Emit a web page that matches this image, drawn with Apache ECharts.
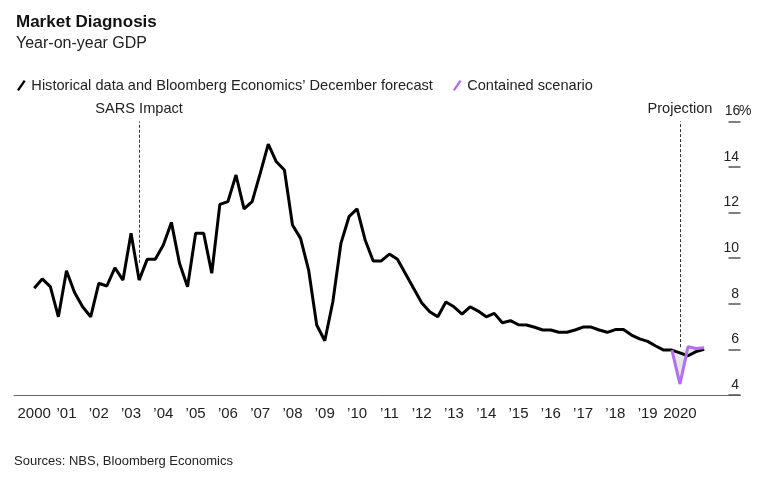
<!DOCTYPE html>
<html>
<head>
<meta charset="utf-8">
<script src="https://cdn.jsdelivr.net/npm/echarts@6/dist/echarts.min.js"></script>
<style>
html, body { margin: 0; padding: 0; background: #fff; }
#viz { width: 767px; height: 480px; }
</style>
</head>
<body>
<div id="viz"></div>
<script>
// quarterly categories, padded two quarters before 2000 and one year after 2020
var quarters = [];
for (var y = 1999; y <= 2021; y++) {
  for (var q = 1; q <= 4; q++) {
    if (y == 1999 && q < 3) continue;
    quarters.push(y + 'Q' + q);
  }
}
var yearLabels = ['2000', '\u201901', '\u201902', '\u201903', '\u201904', '\u201905', '\u201906', '\u201907',
  '\u201908', '\u201909', '\u201910', '\u201911', '\u201912', '\u201913', '\u201914', '\u201915',
  '\u201916', '\u201917', '\u201918', '\u201919', '2020'];

// YoY GDP, 2000Q1 .. 2020Q4 (history + December forecast)
var gdp = [8.68, 9.09, 8.75, 7.43, 9.45, 8.50, 7.87, 7.43, 8.90, 8.78,
  9.58, 9.04, 11.09, 9.04, 9.95, 9.95, 10.58, 11.57, 9.78, 8.75,
  11.09, 11.09, 9.34, 12.36, 12.48, 13.65, 12.16, 12.48, 13.72, 15.0,
  14.23, 13.87, 11.46, 10.87, 9.48, 7.07, 6.38, 8.09, 10.65, 11.82,
  12.16, 10.8, 9.88, 9.88, 10.18, 9.95, 9.32, 8.68, 8.05, 7.65,
  7.43, 8.08, 7.87, 7.55, 7.87, 7.68, 7.43, 7.58, 7.17, 7.26,
  7.08, 7.07, 6.97, 6.85, 6.85, 6.75, 6.75, 6.85, 6.98, 6.98,
  6.85, 6.75, 6.87, 6.87, 6.63, 6.46, 6.35, 6.15, 5.97, 5.97,
  5.85, 5.72, 5.9, 6.0];
var gdpStart = '2000Q1';

// contained scenario, 2019Q4 .. 2020Q4
var contained = [5.97, 4.48, 6.12, 6.04, 6.07];
var containedStart = '2019Q4';

// annotation lines: [category, lower end, upper end]
var sarsLine = ['2003Q2', 9.8, 16];
var projLine = ['2020Q1', 6.1, 16];

var nameHist = 'Historical data and Bloomberg Economics\u2019 December forecast';
var nameCont = 'Contained scenario';

function pad(arr, start) {
  var out = [];
  var off = quarters.indexOf(start);
  for (var i = 0; i < quarters.length; i++) {
    var k = i - off;
    out.push(k >= 0 && k < arr.length ? arr[k] : null);
  }
  return out;
}

var histData = pad(gdp, gdpStart);
var contData = pad(contained, containedStart);
// grey band between the two lines
var bandBase = [], bandDiff = [];
for (var i = 0; i < quarters.length; i++) {
  if (contData[i] != null && histData[i] != null) {
    bandBase.push(Math.min(contData[i], histData[i]));
    bandDiff.push(Math.abs(contData[i] - histData[i]));
  } else {
    bandBase.push(null);
    bandDiff.push(null);
  }
}

function isYearTick(i) {
  var c = quarters[i];
  var yr = +c.slice(0, 4);
  return c.slice(4) == 'Q1' && yr >= 2000 && yr <= 2020;
}

var slash = 'path://M0,10L7,0L9,1.4L2,11.4Z';
var font = '"Liberation Sans", Arial, sans-serif';

var myChart = echarts.init(document.getElementById('viz'));
var option = {
  animation: false,
  textStyle: { fontFamily: font },
  title: [{
    text: 'Market Diagnosis',
    subtext: 'Year-on-year GDP',
    left: 11,
    top: 9,
    itemGap: 5,
    textStyle: { fontSize: 17, fontWeight: 'bold', color: '#111', fontFamily: font },
    subtextStyle: { fontSize: 16, color: '#222', fontFamily: font }
  }, {
    text: 'Sources: NBS, Bloomberg Economics',
    left: 9,
    top: 450,
    textStyle: { fontSize: 13, fontWeight: 'normal', color: '#222', fontFamily: font }
  }],
  legend: {
    left: 12,
    top: 73,
    itemWidth: 10,
    itemHeight: 11,
    itemGap: 20,
    textStyle: { fontSize: 14.6, color: '#222' },
    data: [{ name: nameHist, icon: slash }, { name: nameCont, icon: slash }]
  },
  grid: { left: 14, right: 26.5, top: 121.4, bottom: 85 },
  xAxis: {
    type: 'category',
    data: quarters,
    boundaryGap: true,
    axisLine: { lineStyle: { color: '#666', width: 1 } },
    axisTick: { alignWithLabel: true, length: 5, interval: isYearTick, lineStyle: { color: '#444' } },
    axisLabel: {
      interval: isYearTick,
      margin: 11,
      fontSize: 15,
      color: '#222',
      formatter: function (v) { return yearLabels[+v.slice(0, 4) - 2000]; }
    },
    splitLine: { show: false }
  },
  yAxis: {
    type: 'value',
    position: 'right',
    min: 4,
    max: 16,
    interval: 2,
    splitLine: { show: false },
    axisLine: { show: false },
    axisTick: { show: true, inside: true, length: 12, lineStyle: { color: '#555', width: 1.5 } },
    axisLabel: {
      inside: true,
      margin: 14.5,
      align: 'left',
      verticalAlign: 'bottom',
      padding: [0, 0, 3, 0],
      fontSize: 14,
      color: '#222',
      formatter: function (v) { return '{d|' + v + '}' + (v === 16 ? '%' : ''); },
      rich: { d: { width: 13, align: 'right', fontSize: 14, color: '#222' } }
    }
  },
  series: [{
    name: 'band base',
    type: 'line',
    stack: 'band',
    data: bandBase,
    symbol: 'none',
    lineStyle: { width: 0, opacity: 0 },
    silent: true,
    z: 1
  }, {
    name: 'band',
    type: 'line',
    stack: 'band',
    data: bandDiff,
    symbol: 'none',
    lineStyle: { width: 0, opacity: 0 },
    areaStyle: { color: '#e6e6e6', opacity: 1 },
    silent: true,
    z: 1
  }, {
    name: nameHist,
    type: 'line',
    data: histData,
    symbol: 'none',
    color: '#000',
    lineStyle: { color: '#000', width: 3 },
    z: 3,
    markLine: {
      symbol: 'none',
      silent: true,
      lineStyle: { type: [3, 2], color: '#333', width: 1 },
      label: { position: 'end', distance: 5, fontSize: 14.6, color: '#222', formatter: '{b}' },
      data: [
        [{ name: 'SARS Impact', coord: [sarsLine[0], sarsLine[1]] }, { coord: [sarsLine[0], sarsLine[2]] }],
        [{ name: 'Projection', coord: [projLine[0], projLine[1]] }, { coord: [projLine[0], projLine[2]] }]
      ]
    }
  }, {
    name: nameCont,
    type: 'line',
    data: contData,
    symbol: 'none',
    color: '#b46ef0',
    lineStyle: { color: '#b46ef0', width: 3 },
    z: 4
  }]
};
myChart.setOption(option);
</script>
</body>
</html>
